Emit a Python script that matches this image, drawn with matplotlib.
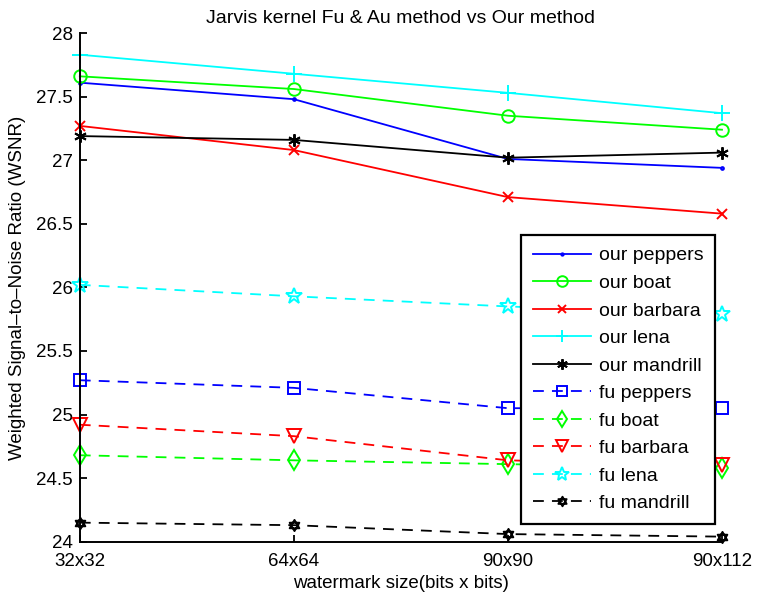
import matplotlib
matplotlib.use('Agg')
import matplotlib.pyplot as plt
import numpy as np
from matplotlib.path import Path

plt.rcParams['font.family'] = ['Liberation Sans', 'DejaVu Sans']

# Data
sizes = ['32x32', '64x64', '90x90', '90x112']

our_peppers = [27.61, 27.48, 27.01, 26.94]
our_boat = [27.66, 27.56, 27.35, 27.24]
our_barbara = [27.27, 27.08, 26.71, 26.58]
our_lena = [27.83, 27.68, 27.53, 27.37]
our_mandrill = [27.19, 27.16, 27.02, 27.06]

fu_peppers = [25.27, 25.21, 25.05, 25.05]
fu_boat = [24.68, 24.64, 24.61, 24.58]
fu_barbara = [24.92, 24.83, 24.64, 24.60]
fu_lena = [26.02, 25.93, 25.85, 25.79]
fu_mandrill = [24.15, 24.13, 24.06, 24.04]

# hexagram marker (two triangles), like MATLAB 'h'
ang1 = np.pi / 2 + np.arange(3) * 2 * np.pi / 3
ang2 = -np.pi / 2 + np.arange(3) * 2 * np.pi / 3
tri1 = np.column_stack([np.cos(ang1), np.sin(ang1)])
tri2 = np.column_stack([np.cos(ang2), np.sin(ang2)])
verts = np.vstack([tri1, tri1[:1], tri2, tri2[:1]])
codes = [Path.MOVETO, Path.LINETO, Path.LINETO, Path.CLOSEPOLY] * 2
hexagram = Path(verts, codes)

blue, green, red, cyan, black = '#0000ff', '#00ff00', '#ff0000', '#00ffff', '#000000'

fig = plt.figure(figsize=(7.6, 5.97), dpi=100)
ax = fig.add_axes([0.105, 0.0926, 0.845, 0.852])

x = np.arange(1, len(sizes) + 1)
lw = 1.3

series = [
    ('our peppers', our_peppers, blue, '-', '.', 4),
    ('our boat', our_boat, green, '-', 'o', 9),
    ('our barbara', our_barbara, red, '-', 'x', 7),
    ('our lena', our_lena, cyan, '-', '+', 11),
    ('our mandrill', our_mandrill, black, '-', (6, 2, 0), 9),
    ('fu peppers', fu_peppers, blue, '--', 's', 8),
    ('fu boat', fu_boat, green, '--', 'd', 10),
    ('fu barbara', fu_barbara, red, '--', 'v', 10),
    ('fu lena', fu_lena, cyan, '--', '*', 12),
    ('fu mandrill', fu_mandrill, black, '--', hexagram, 8),
]

for label, vals, col, ls, mk, size in series:
    line, = ax.plot(x, vals, color=col, linestyle=ls, lw=lw, marker=mk,
                    markersize=size, mfc='none', mec=col, mew=1.4,
                    label=label, clip_on=False)
    if ls == '--':
        line.set_dashes((6, 4.5))

ax.set_xlim(1, 4)
ax.set_ylim(24, 28)
ax.set_xticks(x)
ax.set_xticklabels(sizes)
yt = np.arange(24, 28.01, 0.5)
ax.set_yticks(yt)
ax.set_yticklabels(['%g' % v for v in yt])
ax.tick_params(direction='in', length=5, width=1.3, labelsize=13.5)
ax.tick_params(axis='x', pad=8)
ax.tick_params(axis='y', pad=5)
for s in ['top', 'right']:
    ax.spines[s].set_visible(False)
for s in ['left', 'bottom']:
    ax.spines[s].set_linewidth(1.4)

ax.set_title('Jarvis kernel Fu & Au method vs Our method', fontsize=14, pad=7)
ax.set_xlabel('watermark size(bits x bits)', fontsize=13.5, labelpad=4)
ax.set_ylabel('Weighted Signal\u2013to\u2013Noise Ratio (WSNR)', fontsize=13.5, labelpad=7)

leg = ax.legend(loc='upper left', bbox_to_anchor=(0.686, 0.606),
                bbox_transform=fig.transFigure, fontsize=14, frameon=True,
                fancybox=False, edgecolor='k', framealpha=1, handlelength=3.0,
                labelspacing=0.51, borderpad=0.6, handletextpad=0.4,
                borderaxespad=0, markerscale=0.85)
leg.get_frame().set_linewidth(1.6)
leg.set_zorder(5)

fig.savefig('out.png', dpi=100)
